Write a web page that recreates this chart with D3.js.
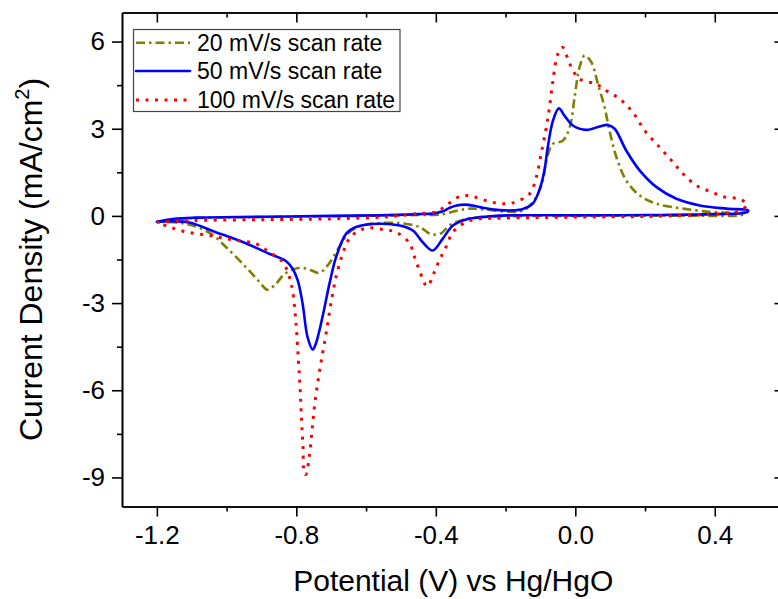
<!DOCTYPE html>
<html>
<head>
<meta charset="utf-8">
<script src="https://cdn.jsdelivr.net/npm/d3@7"></script>
<style>
  html, body { margin: 0; padding: 0; background: #fff; }
  svg { display: block; font-family: "Liberation Sans", Arial, sans-serif; }
</style>
</head>
<body>
<svg id="chart" width="778" height="599"></svg>
<script>
// ---------------- data ----------------
const seriesNames = ["20 mV/s scan rate", "50 mV/s scan rate", "100 mV/s scan rate"];

// 20 mV/s (anodic branch then cathodic branch)
const potential20 = [-1.20,-1.10,-0.90,-0.70,-0.56,-0.45,-0.38,-0.34,-0.30,-0.26,-0.20,-0.16,-0.14,-0.112,-0.093,-0.083,-0.064,-0.036,-0.016,-0.002,0.012,0.027,0.046,0.065,0.084,0.098,0.118,0.146,0.185,0.233,0.309,0.395,0.472,0.495,
  0.48,0.30,0.00,-0.275,-0.313,-0.361,-0.385,-0.413,-0.447,-0.50,-0.562,-0.610,-0.648,-0.677,-0.710,-0.734,-0.758,-0.787,-0.811,-0.835,-0.858,-0.883,-0.906,-0.945,-1.002,-1.045,-1.10,-1.15,-1.20];
const current20 = [-0.20,-0.08,-0.04,-0.01,0.01,0.03,0.06,0.18,0.25,0.22,0.15,0.15,0.25,0.65,1.22,1.91,2.48,2.59,3.05,4.08,5.11,5.52,5.29,4.54,3.74,2.94,2.02,1.22,0.70,0.42,0.25,0.13,0.10,0.14,
  0.04,0.01,0.00,-0.04,-0.10,-0.33,-0.60,-0.63,-0.38,-0.25,-0.25,-0.33,-0.56,-1.07,-1.70,-1.96,-1.87,-1.78,-1.85,-2.01,-2.33,-2.54,-2.27,-1.76,-1.07,-0.61,-0.32,-0.22,-0.20];

// 50 mV/s
const potential50 = [-1.20,-1.15,-1.09,-0.90,-0.70,-0.56,-0.45,-0.41,-0.38,-0.36,-0.34,-0.318,-0.29,-0.265,-0.217,-0.18,-0.15,-0.122,-0.10,-0.088,-0.079,-0.064,-0.047,-0.031,-0.007,0.032,0.070,0.094,0.113,0.146,0.185,0.233,0.29,0.357,0.434,0.496,
  0.49,0.40,0.20,0.00,-0.217,-0.275,-0.313,-0.351,-0.380,-0.409,-0.438,-0.466,-0.504,-0.562,-0.629,-0.657,-0.686,-0.705,-0.725,-0.744,-0.753,-0.768,-0.782,-0.796,-0.811,-0.830,-0.878,-0.954,-1.031,-1.107,-1.164,-1.20];
const current50 = [-0.20,-0.10,-0.06,-0.03,0.00,0.02,0.06,0.08,0.16,0.28,0.36,0.39,0.35,0.28,0.20,0.19,0.24,0.42,1.00,1.60,2.36,3.28,3.70,3.45,3.11,2.96,3.08,3.13,3.00,2.25,1.56,0.99,0.59,0.36,0.25,0.19,
  0.12,0.06,0.03,0.02,0.01,-0.05,-0.12,-0.33,-0.78,-1.19,-0.90,-0.50,-0.33,-0.27,-0.38,-0.61,-1.42,-2.33,-3.48,-4.39,-4.60,-4.16,-3.02,-2.22,-1.81,-1.55,-1.30,-0.90,-0.56,-0.23,-0.18,-0.20];

// 100 mV/s
const potential100 = [-1.20,-1.10,-0.90,-0.70,-0.55,-0.50,-0.45,-0.40,-0.37,-0.332,-0.31,-0.289,-0.251,-0.212,-0.179,-0.131,-0.112,-0.098,-0.083,-0.074,-0.064,-0.050,-0.036,-0.016,0.012,0.060,0.089,0.127,0.165,0.199,0.242,0.276,0.309,0.347,0.391,0.429,0.467,0.493,
  0.47,0.41,0.37,0.20,0.00,-0.227,-0.275,-0.313,-0.351,-0.370,-0.390,-0.404,-0.425,-0.447,-0.461,-0.476,-0.514,-0.552,-0.591,-0.619,-0.648,-0.667,-0.686,-0.701,-0.713,-0.725,-0.736,-0.747,-0.755,-0.763,-0.773,-0.777,-0.781,-0.785,-0.789,-0.794,-0.801,-0.811,-0.820,-0.839,-0.878,-0.916,-0.973,-1.012,-1.05,-1.088,-1.127,-1.164,-1.20];
const current100 = [-0.22,-0.16,-0.13,-0.10,-0.04,0.02,0.08,0.14,0.36,0.67,0.70,0.65,0.51,0.42,0.45,0.76,1.33,2.14,3.05,3.74,4.66,5.57,5.80,5.23,4.71,4.54,4.31,4.03,3.57,2.94,2.36,1.91,1.45,1.05,0.82,0.65,0.59,0.40,
  0.17,0.07,0.04,-0.02,-0.04,-0.08,-0.10,-0.21,-0.56,-1.05,-1.53,-1.93,-2.42,-1.87,-1.42,-0.93,-0.56,-0.47,-0.41,-0.50,-0.78,-1.30,-2.10,-3.02,-3.93,-4.74,-5.54,-6.45,-7.37,-8.29,-8.90,-8.86,-7.94,-7.03,-6.00,-4.97,-3.70,-2.56,-2.10,-1.59,-1.24,-0.96,-0.84,-0.76,-0.67,-0.61,-0.52,-0.38,-0.22];

const xMajorTicks = [-1.2, -0.8, -0.4, 0.0, 0.4];
const xMinorTicks = [-1.0, -0.6, -0.2, 0.2];
const yMajorTicks = [-9, -6, -3, 0, 3, 6];
const yMinorTicks = [-7.5, -4.5, -1.5, 1.5, 4.5];

// ---------------- layout ----------------
const svg = d3.select("#chart");
const L = 122, R = 784.5, T = 12.5, B = 506.5;
const x = d3.scaleLinear().domain([-1.3, 0.6]).range([L, R]);
const y = d3.scaleLinear().domain([-10, 7]).range([B, T]);

const styles = [
  { color: "#808000", width: 2.6, dash: "9,4,2.5,4", cap: "butt" },
  { color: "#0000ff", width: 2.6, dash: null, cap: "round" },
  { color: "#ff0000", width: 3, dash: "3,6.5", cap: "butt" }
];
const series = [
  { p: potential20, c: current20 },
  { p: potential50, c: current50 },
  { p: potential100, c: current100 }
];

svg.append("defs").append("clipPath").attr("id", "clip")
  .append("rect").attr("x", L).attr("y", T).attr("width", R - L).attr("height", B - T);

const line = d3.line()
  .x(d => x(d[0])).y(d => y(d[1]))
  .curve(d3.curveCatmullRom.alpha(0.5));

const plot = svg.append("g").attr("clip-path", "url(#clip)");
series.forEach((s, i) => {
  const pts = s.p.map((v, k) => [v, s.c[k]]);
  plot.append("path")
    .attr("d", line(pts))
    .attr("fill", "none")
    .attr("stroke", styles[i].color)
    .attr("stroke-width", styles[i].width)
    .attr("stroke-linecap", styles[i].cap)
    .attr("stroke-linejoin", "round")
    .attr("stroke-dasharray", styles[i].dash);
});

// ---------------- axes ----------------
const fmtX = d => d3.format(".1f")(d).replace("\u2212", "-");
const fmtY = d => String(d);

function styleAxis(g) {
  g.select(".domain").attr("stroke", "#000").attr("stroke-width", 1.6);
  g.selectAll(".tick line").attr("stroke", "#000").attr("stroke-width", 1.6);
  g.selectAll(".tick text").attr("fill", "#000").attr("font-size", 26)
    .attr("font-family", "'Liberation Sans', Arial, sans-serif");
}

// bottom
svg.append("g").attr("transform", `translate(0,${B})`)
  .call(d3.axisBottom(x).tickValues(xMinorTicks).tickSize(5).tickFormat("").tickSizeOuter(0))
  .call(styleAxis);
svg.append("g").attr("transform", `translate(0,${B})`)
  .call(d3.axisBottom(x).tickValues(xMajorTicks).tickSize(10).tickPadding(9).tickFormat(fmtX).tickSizeOuter(0))
  .call(styleAxis);
// top (inward)
svg.append("g").attr("transform", `translate(0,${T})`)
  .call(d3.axisTop(x).tickValues(xMinorTicks).tickSize(-5).tickFormat("").tickSizeOuter(0))
  .call(styleAxis);
svg.append("g").attr("transform", `translate(0,${T})`)
  .call(d3.axisTop(x).tickValues(xMajorTicks).tickSize(-10).tickFormat("").tickSizeOuter(0))
  .call(styleAxis);
// left
svg.append("g").attr("transform", `translate(${L},0)`)
  .call(d3.axisLeft(y).tickValues(yMinorTicks).tickSize(5).tickFormat("").tickSizeOuter(0))
  .call(styleAxis);
svg.append("g").attr("transform", `translate(${L},0)`)
  .call(d3.axisLeft(y).tickValues(yMajorTicks).tickSize(10).tickPadding(7).tickFormat(fmtY).tickSizeOuter(0))
  .call(styleAxis);
// right (inward)
svg.append("g").attr("transform", `translate(${R},0)`)
  .call(d3.axisRight(y).tickValues(yMinorTicks).tickSize(-5).tickFormat("").tickSizeOuter(0))
  .call(styleAxis);
svg.append("g").attr("transform", `translate(${R},0)`)
  .call(d3.axisRight(y).tickValues(yMajorTicks).tickSize(-10).tickFormat("").tickSizeOuter(0))
  .call(styleAxis);

// axis titles
svg.append("text")
  .attr("x", (L + R) / 2).attr("y", 591)
  .attr("text-anchor", "middle").attr("font-size", 30).attr("fill", "#000")
  .text("Potential (V) vs Hg/HgO");

const yt = svg.append("text")
  .attr("transform", `translate(42,${(T + B) / 2}) rotate(-90)`)
  .attr("text-anchor", "middle").attr("font-size", 32).attr("fill", "#000");
yt.append("tspan").text("Current Density (mA/cm");
yt.append("tspan").attr("font-size", 20).attr("dy", -13).text("2");
yt.append("tspan").attr("dy", 13).text(")");

// legend
const lg = svg.append("g");
lg.append("rect").attr("x", 133.5).attr("y", 29.5).attr("width", 266.5).attr("height", 82)
  .attr("fill", "#fff").attr("stroke", "#444").attr("stroke-width", 1.2);
const rowY = [42.7, 71, 100];
seriesNames.forEach((name, i) => {
  lg.append("line").attr("x1", 136).attr("x2", 190).attr("y1", rowY[i]).attr("y2", rowY[i])
    .attr("stroke", styles[i].color).attr("stroke-width", styles[i].width)
    .attr("stroke-linecap", styles[i].cap).attr("stroke-dasharray", styles[i].dash);
  lg.append("text").attr("x", 197).attr("y", rowY[i] + 7.8)
    .attr("font-size", 23).attr("fill", "#000").text(name);
});
</script>
</body>
</html>
